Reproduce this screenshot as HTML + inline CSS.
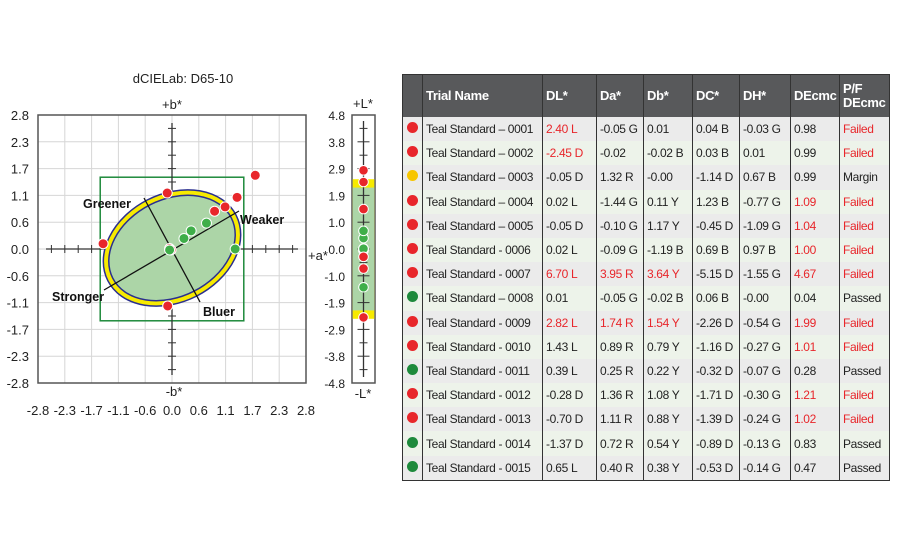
<!DOCTYPE html>
<html><head><meta charset="utf-8">
<style>
body{margin:0;width:900px;height:550px;background:#fff;overflow:hidden;position:relative;font-family:"Liberation Sans",sans-serif}
#chart{position:absolute;left:0;top:0}
#tbl{position:absolute;left:402px;top:74px;border-collapse:collapse;font-size:12px;color:#222;table-layout:fixed;letter-spacing:-0.35px}
#tbl td,#tbl th{border-left:1.5px solid #333;padding:0 0 0 3px;height:24.2px;white-space:nowrap;overflow:hidden}
#tbl th{background:#58595b;color:#fff;text-align:left;font-size:13px;height:42px;line-height:14px;letter-spacing:-0.3px}
#tbl tr:nth-child(odd) td{background:#ebebeb}
#tbl tr:nth-child(even) td{background:#edf3ea}
#tbl{border:1.5px solid #333}
.r{color:#e8262b}
.dot{display:inline-block;width:11px;height:11px;border-radius:50%;margin-left:1px}
</style></head><body>
<svg id="chart" width="400" height="430"></svg>
<table id="tbl">
<colgroup><col style="width:20px"><col style="width:120px"><col style="width:54px"><col style="width:47px"><col style="width:49px"><col style="width:47px"><col style="width:51px"><col style="width:49px"><col style="width:50px"></colgroup>
<thead><tr><th></th><th>Trial Name</th><th>DL*</th><th>Da*</th><th>Db*</th><th>DC*</th><th>DH*</th><th>DEcmc</th><th>P/F<br>DEcmc</th></tr></thead>
<tbody id="tbody"></tbody>
</table>
<script>
const names=["Teal Standard – 0001","Teal Standard – 0002","Teal Standard – 0003","Teal Standard – 0004","Teal Standard – 0005","Teal Standard - 0006","Teal Standard - 0007","Teal Standard – 0008","Teal Standard - 0009","Teal Standard - 0010","Teal Standard - 0011","Teal Standard - 0012","Teal Standard - 0013","Teal Standard - 0014","Teal Standard - 0015"];
const dL=[2.40,-2.45,-0.05,0.02,-0.05,0.02,6.70,0.01,2.82,1.43,0.39,-0.28,-0.70,-1.37,0.65];
const dLtxt=["2.40 L","-2.45 D","-0.05 D","0.02 L","-0.05 D","0.02 L","6.70 L","0.01","2.82 L","1.43 L","0.39 L","-0.28 D","-0.70 D","-1.37 D","0.65 L"];
const da=[-0.05,-0.02,1.32,-1.44,-0.10,-0.09,3.95,-0.05,1.74,0.89,0.25,1.36,1.11,0.72,0.40];
const datxt=["-0.05 G","-0.02","1.32 R","-1.44 G","-0.10 G","-0.09 G","3.95 R","-0.05 G","1.74 R","0.89 R","0.25 R","1.36 R","1.11 R","0.72 R","0.40 R"];
const db=[0.01,-0.02,0.00,0.11,1.17,-1.19,3.64,-0.02,1.54,0.79,0.22,1.08,0.88,0.54,0.38];
const dbtxt=["0.01","-0.02 B","-0.00","0.11 Y","1.17 Y","-1.19 B","3.64 Y","-0.02 B","1.54 Y","0.79 Y","0.22 Y","1.08 Y","0.88 Y","0.54 Y","0.38 Y"];
const dctxt=["0.04 B","0.03 B","-1.14 D","1.23 B","-0.45 D","0.69 B","-5.15 D","0.06 B","-2.26 D","-1.16 D","-0.32 D","-1.71 D","-1.39 D","-0.89 D","-0.53 D"];
const dhtxt=["-0.03 G","0.01","0.67 B","-0.77 G","-1.09 G","0.97 B","-1.55 G","-0.00","-0.54 G","-0.27 G","-0.07 G","-0.30 G","-0.24 G","-0.13 G","-0.14 G"];
const decmc=[0.98,0.99,0.99,1.09,1.04,1.00,4.67,0.04,1.99,1.01,0.28,1.21,1.02,0.83,0.47];
const status=["Failed","Failed","Margin","Failed","Failed","Failed","Failed","Passed","Failed","Failed","Passed","Failed","Failed","Passed","Passed"];
const redDL=[0,1,6,8], redDa=[6,8], redDb=[6,8];
const axisTicksAB=["-2.8","-2.3","-1.7","-1.1","-0.6","0.0","0.6","1.1","1.7","2.3","2.8"];
const axisTicksL=["4.8","3.8","2.9","1.9","1.0","0.0","-1.0","-1.9","-2.9","-3.8","-4.8"];
const dotColor={Failed:"#e8262b",Margin:"#f7c600",Passed:"#1e8a3c"};
const plotColor=["#e8262b","#e8262b","#3fae49","#e8262b","#e8262b","#e8262b","#e8262b","#3fae49","#e8262b","#e8262b","#3fae49","#e8262b","#e8262b","#3fae49","#3fae49"];

const tb=document.getElementById('tbody');
names.forEach((n,i)=>{
  const tr=document.createElement('tr');
  
  
  const c=(t,red)=>`<td${red?' class="r"':''}>${t}</td>`;
  tr.innerHTML=`<td><span class="dot" style="background:${dotColor[status[i]]}"></span></td>`+c(n)+c(dLtxt[i],redDL.includes(i))+c(datxt[i],redDa.includes(i))+c(dbtxt[i],redDb.includes(i))+c(dctxt[i])+c(dhtxt[i])+c(decmc[i].toFixed(2),decmc[i]>=1)+c(status[i],status[i]=="Failed");
  tb.appendChild(tr);
});

const svg=document.getElementById('chart');
const NS="http://www.w3.org/2000/svg";
function el(tag,attrs,name,parent){const e=document.createElementNS(NS,tag);for(const k in attrs)e.setAttribute(k,attrs[k]);
 
 
 (parent||svg).appendChild(e);return e;}
function txt(x,y,s,name,attrs){const t=el('text',Object.assign({x:x,y:y,'font-size':13,fill:'#222','font-family':'Liberation Sans, sans-serif'},attrs||{}),name);t.textContent=s;return t;}
const X0=38,X1=306,Y0=115,Y1=383;
const ax=a=>X0+(a+2.8)/5.6*(X1-X0);
const by=b=>(Y0+Y1)/2-b/5.6*(Y1-Y0);
const ly=l=>(Y0+Y1)/2-l/9.6*(Y1-Y0);
const cx=ax(0),cy=by(0);
txt(183,83,"dCIELab: D65-10","chart-title",{'text-anchor':'middle'});
el('rect',{x:X0,y:Y0,width:X1-X0,height:Y1-Y0,fill:'#fff',stroke:'none'},'plot-area');
const st=(X1-X0)/10;
for(let i=1;i<10;i++){
  el('line',{x1:X0+i*st,x2:X0+i*st,y1:Y0,y2:Y1,stroke:'#d6d6d6'},'grid-v');
  el('line',{x1:X0,x2:X1,y1:Y0+i*st,y2:Y0+i*st,stroke:'#d6d6d6'},'grid-h');
}
el('rect',{x:ax(-1.5),y:by(1.5),width:ax(1.5)-ax(-1.5),height:by(-1.5)-by(1.5),fill:'none',stroke:'#1e8a3c','stroke-width':1.5},'tolerance-box');
el('line',{x1:X0+8,x2:X1-8,y1:cy,y2:cy,stroke:'#333','stroke-width':1.3},'a-axis');
el('line',{x1:cx,x2:cx,y1:Y0+8,y2:Y1-8,stroke:'#333','stroke-width':1.3},'b-axis');
for(let i=1;i<20;i++){if(i==10)continue;
  el('line',{x1:X0+i*st/2,x2:X0+i*st/2,y1:cy-4,y2:cy+4,stroke:'#333'},'a-tick');
  el('line',{x1:cx-4,x2:cx+4,y1:Y0+i*st/2,y2:Y0+i*st/2,stroke:'#333'},'b-tick');
}
const g=el('g',{transform:`translate(${cx},${cy-1}) rotate(-27)`},'tolerance-ellipse');
el('ellipse',{cx:0,cy:0,rx:72,ry:54,fill:'#f7ea00',stroke:'#2a2f8f','stroke-width':1.5},'ellipse-outer',g);
el('ellipse',{cx:0,cy:0,rx:66.5,ry:48.5,fill:'#acd5a7',stroke:'#2a2f8f','stroke-width':1.5},'ellipse-inner',g);
el('line',{x1:144,y1:198,x2:200,y2:302,stroke:'#111','stroke-width':1.3},'hue-axis-line');
el('line',{x1:239,y1:211,x2:104,y2:290,stroke:'#111','stroke-width':1.3},'chroma-axis-line');
el('rect',{x:X0,y:Y0,width:X1-X0,height:Y1-Y0,fill:'none',stroke:'#555','stroke-width':1.5},'plot-frame');
const bl={'font-weight':'bold','font-size':12.5,fill:'#111'};
txt(83,208,"Greener","label-greener",bl);
txt(240,224,"Weaker","label-weaker",bl);
txt(52,301,"Stronger","label-stronger",bl);
txt(203,316,"Bluer","label-bluer",bl);
axisTicksAB.forEach((t,i)=>{
  txt(29,Y1-i*st+5,t,'y-tick-label',{'text-anchor':'end'});
  txt(X0+i*st,415,t,'x-tick-label',{'text-anchor':'middle'});
});
txt(172,109,"+b*","label-plus-b",{'text-anchor':'middle'});
txt(174,396,"-b*","label-minus-b",{'text-anchor':'middle'});
txt(308,260,"+a*","label-plus-a");
da.forEach((a,i)=>{const b=db[i];if(Math.abs(a)>2.8||Math.abs(b)>2.8)return;
  el('circle',{cx:ax(a),cy:by(b),r:5,fill:plotColor[i],stroke:'#fff','stroke-width':1},'ab-point');});
const LX0=352,LX1=375,LC=363.5;
el('rect',{x:LX0,y:Y0,width:LX1-LX0,height:Y1-Y0,fill:'#fff',stroke:'#555','stroke-width':1.5},'l-bar');
el('rect',{x:LX0+0.7,y:ly(2.5),width:LX1-LX0-1.4,height:ly(-2.5)-ly(2.5),fill:'#f7ea00'},'l-tolerance-yellow');
el('rect',{x:LX0+0.7,y:ly(2.2),width:LX1-LX0-1.4,height:ly(-2.2)-ly(2.2),fill:'#acd5a7'},'l-tolerance-green');
el('line',{x1:LC,x2:LC,y1:Y0+6,y2:Y1-6,stroke:'#333','stroke-width':1.3},'l-axis');
const lst=(Y1-Y0)/10;
for(let i=1;i<20;i++)el('line',{x1:LC-(i%2?4:6),x2:LC+(i%2?4:6),y1:Y0+i*lst/2,y2:Y0+i*lst/2,stroke:'#333'},'l-tick');
axisTicksL.forEach((t,i)=>txt(345,Y0+i*lst+5,t,'l-tick-label',{'text-anchor':'end','font-size':12}));
txt(363,108,"+L*","label-plus-l",{'text-anchor':'middle'});
txt(363,398,"-L*","label-minus-l",{'text-anchor':'middle'});
dL.forEach((l,i)=>{if(Math.abs(l)>4.8)return;
  el('circle',{cx:LC,cy:ly(l),r:4.8,fill:plotColor[i],stroke:'#fff','stroke-width':1},'l-point');});
</script>
</body></html>
